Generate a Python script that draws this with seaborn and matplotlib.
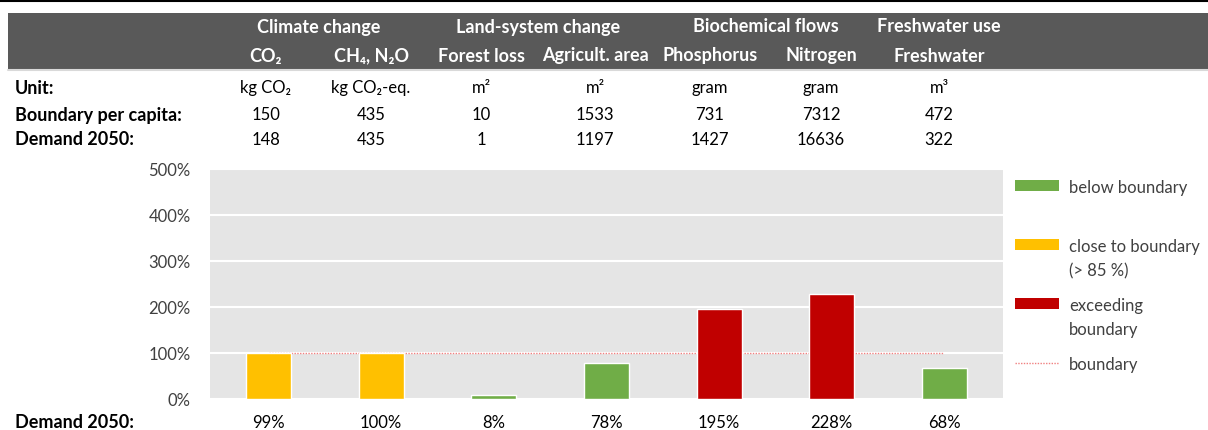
import matplotlib.pyplot as plt
import matplotlib.patches as mpatches
import matplotlib.lines as mlines
import seaborn as sns
import pandas as pd

# Daten
groups = ["Climate change", "Land-system change", "Biochemical flows", "Freshwater use"]
group_cols = [[0, 1], [2, 3], [4, 5], [6]]
categories = ["CO₂", "CH₄, N₂O", "Forest loss", "Agricult. area", "Phosphorus", "Nitrogen", "Freshwater"]
units = ["kg CO₂", "kg CO₂-eq.", "m²", "m²", "gram", "gram", "m³"]
boundary = [150, 435, 10, 1533, 731, 7312, 472]
demand = [148, 435, 1, 1197, 1427, 16636, 322]
share = [99, 100, 8, 78, 195, 228, 68]
status = ["close", "close", "below", "below", "exceeding", "exceeding", "below"]

status_order = ["below", "close", "exceeding"]
status_labels = {"below": "below boundary",
                 "close": "close to boundary\n(> 85 %)",
                 "exceeding": "exceeding\nboundary"}
status_colors = {"below": "#70AD47", "close": "#FFC000", "exceeding": "#C00000"}
line_color = "#F08080"

W, H = 1208, 431
sns.set_style("whitegrid", {"axes.facecolor": "#E5E5E5", "grid.color": "white"})
plt.rcParams["font.family"] = ["Lato", "DejaVu Sans"]

fig = plt.figure(figsize=(W / 100, H / 100), dpi=100)

def fx(px):
    return px / W

def fy(py):
    return 1 - py / H

# Kopfzeile (dunkles Band)
fig.add_artist(mlines.Line2D([0, 1], [fy(1.5), fy(1.5)], color="black", lw=1.5))
fig.add_artist(mpatches.Rectangle((fx(8), fy(70)), fx(1200), fy(14) - fy(70),
                                  color="#595959", lw=0))
fig.add_artist(mlines.Line2D([fx(8), 1], [fy(71), fy(71)], color="#D9D9D9", lw=1.5))

col_x = [266, 371, 481, 595, 710, 821, 939]
for g, cols in zip(groups, group_cols):
    cx = sum(col_x[c] for c in cols) / len(cols)
    fig.text(fx(cx), fy(27), g, ha="center", va="center", color="white",
             fontsize=13, fontweight="bold")
for c, name in enumerate(categories):
    fig.text(fx(col_x[c]), fy(56), name, ha="center", va="center", color="white",
             fontsize=13, fontweight="bold")

# Tabelle
rows = [("Unit:", units, 88), ("Boundary per capita:", boundary, 115),
        ("Demand 2050:", demand, 140)]
for label, vals, py in rows:
    fig.text(fx(15), fy(py), label, ha="left", va="center", fontsize=13,
             fontweight="bold", color="black")
    for c, v in enumerate(vals):
        fig.text(fx(col_x[c]), fy(py), str(v), ha="center", va="center",
                 fontsize=12, color="black")

# Balkendiagramm
ax = fig.add_axes([fx(210), fy(400), fx(793), fy(170) - fy(400)])
df = pd.DataFrame({"category": categories, "share": share, "status": status})
sns.barplot(data=df, x="category", y="share", hue="status", palette=status_colors,
            hue_order=status_order, dodge=False, width=0.4,
            legend=False, ax=ax, zorder=3, saturation=1)
ax.plot([0, len(categories) - 1], [100, 100], color=line_color, ls=(0, (1, 1)),
        lw=1, zorder=2)

ax.set_ylim(0, 500)
ax.set_yticks(range(0, 501, 100))
ax.set_yticklabels([f"{v}%" for v in range(0, 501, 100)], fontsize=12, color="#404040")
ax.set_xticks(range(len(categories)))
ax.set_xticklabels([f"{v}%" for v in share], fontsize=12, color="black")
ax.tick_params(axis="x", pad=11, length=0)
ax.tick_params(axis="y", pad=14, length=0)
ax.set_xlabel("")
ax.set_ylabel("")
ax.grid(axis="x", visible=False)
ax.grid(axis="y", lw=1.5)
for s in ax.spines.values():
    s.set_visible(False)
fig.text(fx(15), fy(423), "Demand 2050:", ha="left", va="center", fontsize=13,
         fontweight="bold", color="black")

# Legende (von Hand, Symbol an der ersten Zeile ausgerichtet)
leg_y = [187, 246, 305, 364]
for k, py in zip(status_order, leg_y):
    fig.add_artist(mpatches.Rectangle((fx(1015), fy(py + 5)), fx(44), fy(py - 6) - fy(py + 5),
                                      color=status_colors[k], lw=0))
    fig.text(fx(1069), fy(py - 7), status_labels[k], ha="left", va="top",
             fontsize=12, color="#404040", linespacing=1.65)
fig.add_artist(mlines.Line2D([fx(1015), fx(1059)], [fy(leg_y[3]), fy(leg_y[3])],
                             color=line_color, ls=(0, (1, 1)), lw=1))
fig.text(fx(1069), fy(leg_y[3] - 7), "boundary", ha="left", va="top",
         fontsize=12, color="#404040")

fig.savefig("out.png", dpi=100)
